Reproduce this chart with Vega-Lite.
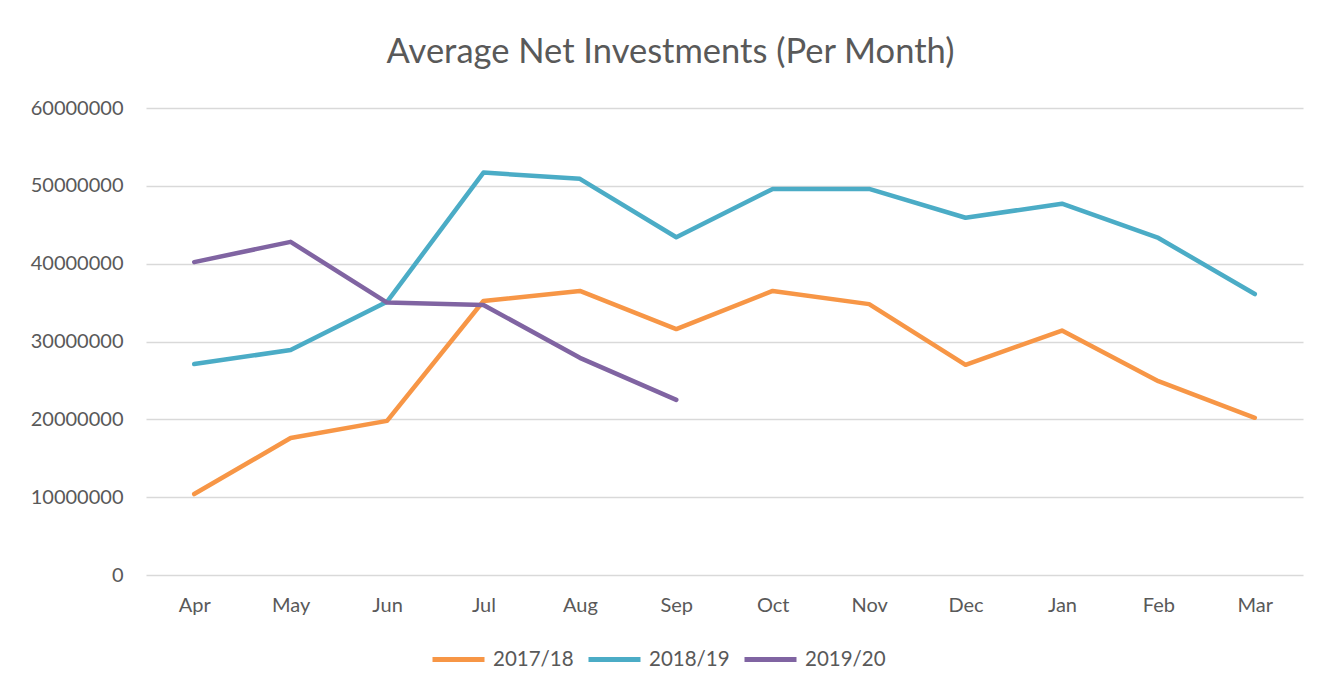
{
  "$schema": "https://vega.github.io/schema/vega-lite/v6.json",
  "autosize": {"type": "none"},
  "width": 1157,
  "height": 467,
  "padding": {"left": 146, "top": 108, "right": 16, "bottom": 115},
  "background": "white",
  "title": {
    "text": "Average Net Investments (Per Month)",
    "anchor": "middle",
    "frame": "group",
    "dx": -54,
    "offset": 28,
    "font": "Lato",
    "fontSize": 34.5,
    "fontWeight": "normal",
    "color": "#595959"
  },
  "data": {
    "values": [
      {"month": "Apr", "year": "2017/18", "value": 10400000},
      {"month": "May", "year": "2017/18", "value": 17600000},
      {"month": "Jun", "year": "2017/18", "value": 19800000},
      {"month": "Jul", "year": "2017/18", "value": 35200000},
      {"month": "Aug", "year": "2017/18", "value": 36500000},
      {"month": "Sep", "year": "2017/18", "value": 31600000},
      {"month": "Oct", "year": "2017/18", "value": 36500000},
      {"month": "Nov", "year": "2017/18", "value": 34800000},
      {"month": "Dec", "year": "2017/18", "value": 27000000},
      {"month": "Jan", "year": "2017/18", "value": 31400000},
      {"month": "Feb", "year": "2017/18", "value": 24900000},
      {"month": "Mar", "year": "2017/18", "value": 20200000},
      {"month": "Apr", "year": "2018/19", "value": 27100000},
      {"month": "May", "year": "2018/19", "value": 28900000},
      {"month": "Jun", "year": "2018/19", "value": 35100000},
      {"month": "Jul", "year": "2018/19", "value": 51700000},
      {"month": "Aug", "year": "2018/19", "value": 50900000},
      {"month": "Sep", "year": "2018/19", "value": 43400000},
      {"month": "Oct", "year": "2018/19", "value": 49600000},
      {"month": "Nov", "year": "2018/19", "value": 49600000},
      {"month": "Dec", "year": "2018/19", "value": 45900000},
      {"month": "Jan", "year": "2018/19", "value": 47700000},
      {"month": "Feb", "year": "2018/19", "value": 43300000},
      {"month": "Mar", "year": "2018/19", "value": 36100000},
      {"month": "Apr", "year": "2019/20", "value": 40200000},
      {"month": "May", "year": "2019/20", "value": 42800000},
      {"month": "Jun", "year": "2019/20", "value": 35000000},
      {"month": "Jul", "year": "2019/20", "value": 34700000},
      {"month": "Aug", "year": "2019/20", "value": 27900000},
      {"month": "Sep", "year": "2019/20", "value": 22500000}
    ]
  },
  "mark": {"type": "line", "strokeWidth": 4.5, "strokeCap": "round", "strokeJoin": "round"},
  "encoding": {
    "x": {
      "field": "month",
      "type": "ordinal",
      "sort": ["Apr", "May", "Jun", "Jul", "Aug", "Sep", "Oct", "Nov", "Dec", "Jan", "Feb", "Mar"],
      "scale": {"type": "point", "padding": 0.5},
      "axis": {
        "title": null,
        "domain": false,
        "ticks": false,
        "grid": false,
        "labelAngle": 0,
        "labelPadding": 20,
        "labelFont": "Lato",
        "labelFontSize": 20,
        "labelColor": "#595959"
      }
    },
    "y": {
      "field": "value",
      "type": "quantitative",
      "scale": {"domain": [0, 60000000], "nice": false},
      "axis": {
        "title": null,
        "values": [0, 10000000, 20000000, 30000000, 40000000, 50000000, 60000000],
        "format": "d",
        "domain": false,
        "ticks": false,
        "labelPadding": 23,
        "labelFont": "Lato",
        "labelFontSize": 20,
        "labelColor": "#595959",
        "gridColor": "#d9d9d9",
        "gridWidth": 1.5
      }
    },
    "color": {
      "field": "year",
      "type": "nominal",
      "scale": {"domain": ["2017/18", "2018/19", "2019/20"], "range": ["#F79646", "#4BACC6", "#8064A2"]},
      "legend": {
        "title": null,
        "orient": "none",
        "direction": "horizontal",
        "legendX": 284,
        "legendY": 523,
        "symbolType": "stroke",
        "symbolSize": 2704,
        "symbolStrokeWidth": 5,
        "labelFont": "Lato",
        "labelFontSize": 20.5,
        "labelColor": "#595959",
        "labelOffset": 6,
        "columnPadding": 4
      }
    }
  },
  "config": {"view": {"stroke": null}}
}
